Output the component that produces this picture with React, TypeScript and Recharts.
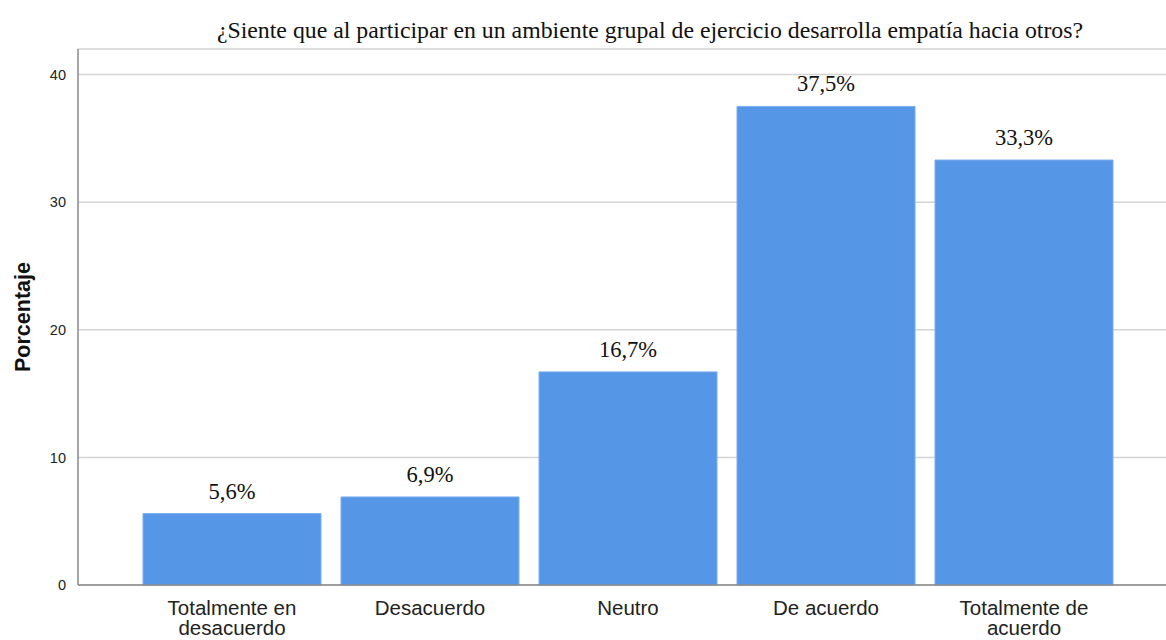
import { BarChart, Bar, XAxis, YAxis, CartesianGrid, LabelList } from 'recharts'

const categories = ['Totalmente en desacuerdo', 'Desacuerdo', 'Neutro', 'De acuerdo', 'Totalmente de acuerdo']
const percentages = [5.6, 6.9, 16.7, 37.5, 33.3]
const yTicks = [0, 10, 20, 30, 40]

const tickLines: Record<string, string[]> = {
  'Totalmente en desacuerdo': ['Totalmente en', 'desacuerdo'],
  'Totalmente de acuerdo': ['Totalmente de', 'acuerdo'],
}

const data = categories.map((c, i) => ({ name: c, value: percentages[i] }))

function CategoryTick(props: any) {
  const { x, y, payload } = props
  const lines = tickLines[payload.value] ?? [payload.value]
  return (
    <text x={x} y={y} textAnchor="middle" fill="#222" fontSize={20.5} fontFamily="'Liberation Sans', Arial, sans-serif">
      {lines.map((l, i) => (
        <tspan key={i} x={x} dy={i === 0 ? 22 : 19.5}>{l}</tspan>
      ))}
    </text>
  )
}

export default function App() {
  return (
    <div style={{ position: 'absolute', left: 0, top: 0, width: 1166, height: 640, background: '#fff', overflow: 'hidden' }}>
      <div
        style={{
          position: 'absolute',
          left: 0,
          top: 16,
          width: 1300,
          textAlign: 'center',
          fontFamily: "'Liberation Serif', 'Times New Roman', serif",
          fontSize: 23.8,
          lineHeight: '28px',
          color: '#111',
        }}
      >
        ¿Siente que al participar en un ambiente grupal de ejercicio desarrolla empatía hacia otros?
      </div>
      <BarChart width={1166} height={640} data={data} margin={{ top: 49, right: 0, bottom: 0, left: 18 }} barCategoryGap={10}>
        <CartesianGrid horizontal vertical={false} stroke="#d4d4d4" strokeWidth={1.5} />
        <XAxis
          dataKey="name"
          height={55}
          tick={<CategoryTick />}
          tickLine={false}
          axisLine={{ stroke: '#888', strokeWidth: 1.5 }}
          interval={0}
          padding={{ left: 55, right: 43 }}
        />
        <YAxis
          domain={[0, 42]}
          ticks={yTicks}
          width={60}
          tickLine={false}
          axisLine={{ stroke: '#888', strokeWidth: 1.5 }}
          tick={{ fill: '#222', fontSize: 14.5, fontFamily: "'Liberation Sans', Arial, sans-serif" }}
          tickMargin={6}
          label={{
            value: 'Porcentaje',
            angle: -90,
            position: 'insideLeft',
            offset: 4,
            style: { fontWeight: 'bold', fontSize: 21.5, fill: '#111', fontFamily: "'Liberation Sans', Arial, sans-serif", textAnchor: 'middle' },
          }}
        />
        <Bar dataKey="value" fill="#5596e6" stroke="#7aaef0" strokeWidth={1} isAnimationActive={false}>
          <LabelList
            dataKey="value"
            position="top"
            offset={15}
            formatter={(v: any) => `${Number(v).toFixed(1).replace('.', ',')}%`}
            style={{ fontSize: 22.5, fill: '#111', fontFamily: "'Liberation Serif', 'Times New Roman', serif" }}
          />
        </Bar>
      </BarChart>
    </div>
  )
}
